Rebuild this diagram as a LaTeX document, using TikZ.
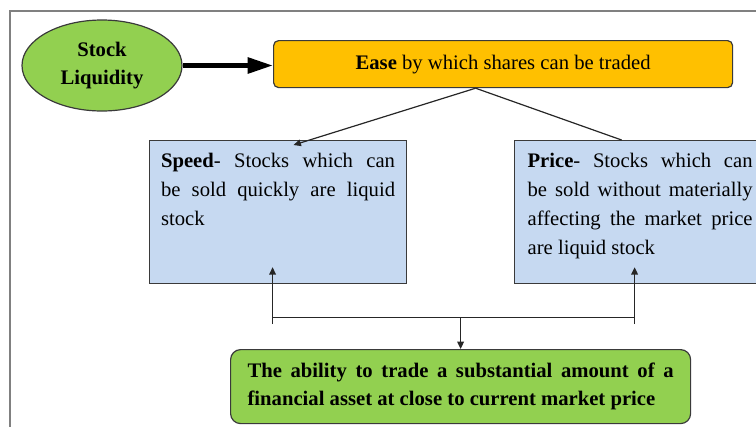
\documentclass[tikz,border=0pt]{standalone}
\usepackage{fontspec}
\setmainfont{Liberation Serif}
\usetikzlibrary{positioning,calc,arrows.meta,shapes.geometric}
\definecolor{leafgreen}{HTML}{92D050}
\definecolor{amber}{HTML}{FFC000}
\definecolor{paleblue}{HTML}{C6D9F1}
\definecolor{edgegray}{HTML}{3A3A3A}
\tikzset{>={Triangle[length=5.5pt,width=5pt]},
  txt/.style={font=\fontsize{15.5}{21.75}\selectfont},
  bluebox/.style={txt,draw=edgegray,fill=paleblue,line width=0.9pt,anchor=north west,
    inner ysep=0pt,text height=20.25pt,text depth=87pt,align=justify},
  link/.style={draw=black!85,line width=0.9pt}}

\begin{document}
\begin{tikzpicture}[x=0.75pt,y=-0.75pt]
\useasboundingbox (0,0) rectangle (756,426);
\clip (0,0) rectangle (756,426);
\draw[black!50,line width=1.5pt] (10,11) rectangle (800,470);
\node[ellipse,draw=edgegray,fill=leafgreen,line width=0.9pt,minimum width=120pt,
  minimum height=68.25pt,inner sep=0pt,align=center,
  font=\bfseries\fontsize{15.5}{20.5}\selectfont] (liq) at (102,65.5) {Stock\\Liquidity};
\node[txt,draw=edgegray,fill=amber,line width=0.9pt,rounded corners=3.75pt,anchor=north west,
  minimum width=344.25pt,minimum height=35.25pt] (ease) at (273,40)
  {\textbf{Ease} by which shares can be traded};
\draw[line width=3.6pt,-{Triangle[length=19pt,width=11.5pt]}] (liq.east) -- (liq.east -| ease.west);
\node[bluebox,inner xsep=8.6pt,text width=175.5pt] (speed) at (149,140)
  {\textbf{Speed}- Stocks which can\linebreak be sold quickly are liquid\linebreak stock};
\node[bluebox,inner xsep=9.75pt,text width=168.75pt] (price) at (514,140)
  {\textbf{Price}- Stocks which can\linebreak be sold without materially\linebreak affecting the market price\linebreak are liquid stock};
\draw[link,->] ($(ease.south)+(-27.5,0)$) -- ($(speed.north)+(15.5,5)$);
\draw[link] ($(ease.south)+(-27.5,0)$) -- ($(price.north)+(-18.5,0)$);
\node[draw=edgegray,fill=leafgreen,line width=0.9pt,rounded corners=7.5pt,anchor=north west,
  minimum height=55.5pt,text width=319.5pt,inner xsep=12.75pt,align=justify,
  font=\bfseries\fontsize{15.5}{21}\selectfont] (ability) at (230,349)
  {The ability to trade a substantial amount of a\linebreak financial asset at close to current market price};
\coordinate (lft) at ($(speed.south)+(-5.5,33)$);
\coordinate (rgt) at ($(price.south)+(-5.5,33)$);
\draw[link] (lft) -- (rgt);
\draw[link,->] ($(lft)+(0,7)$) -- ($(speed.south)+(-5.5,-17)$);
\draw[link,->] ($(rgt)+(0,7)$) -- ($(price.south)+(-5.5,-17)$);
\draw[link,->] (lft -| ability.north) -- (ability.north);
\end{tikzpicture}
\end{document}
